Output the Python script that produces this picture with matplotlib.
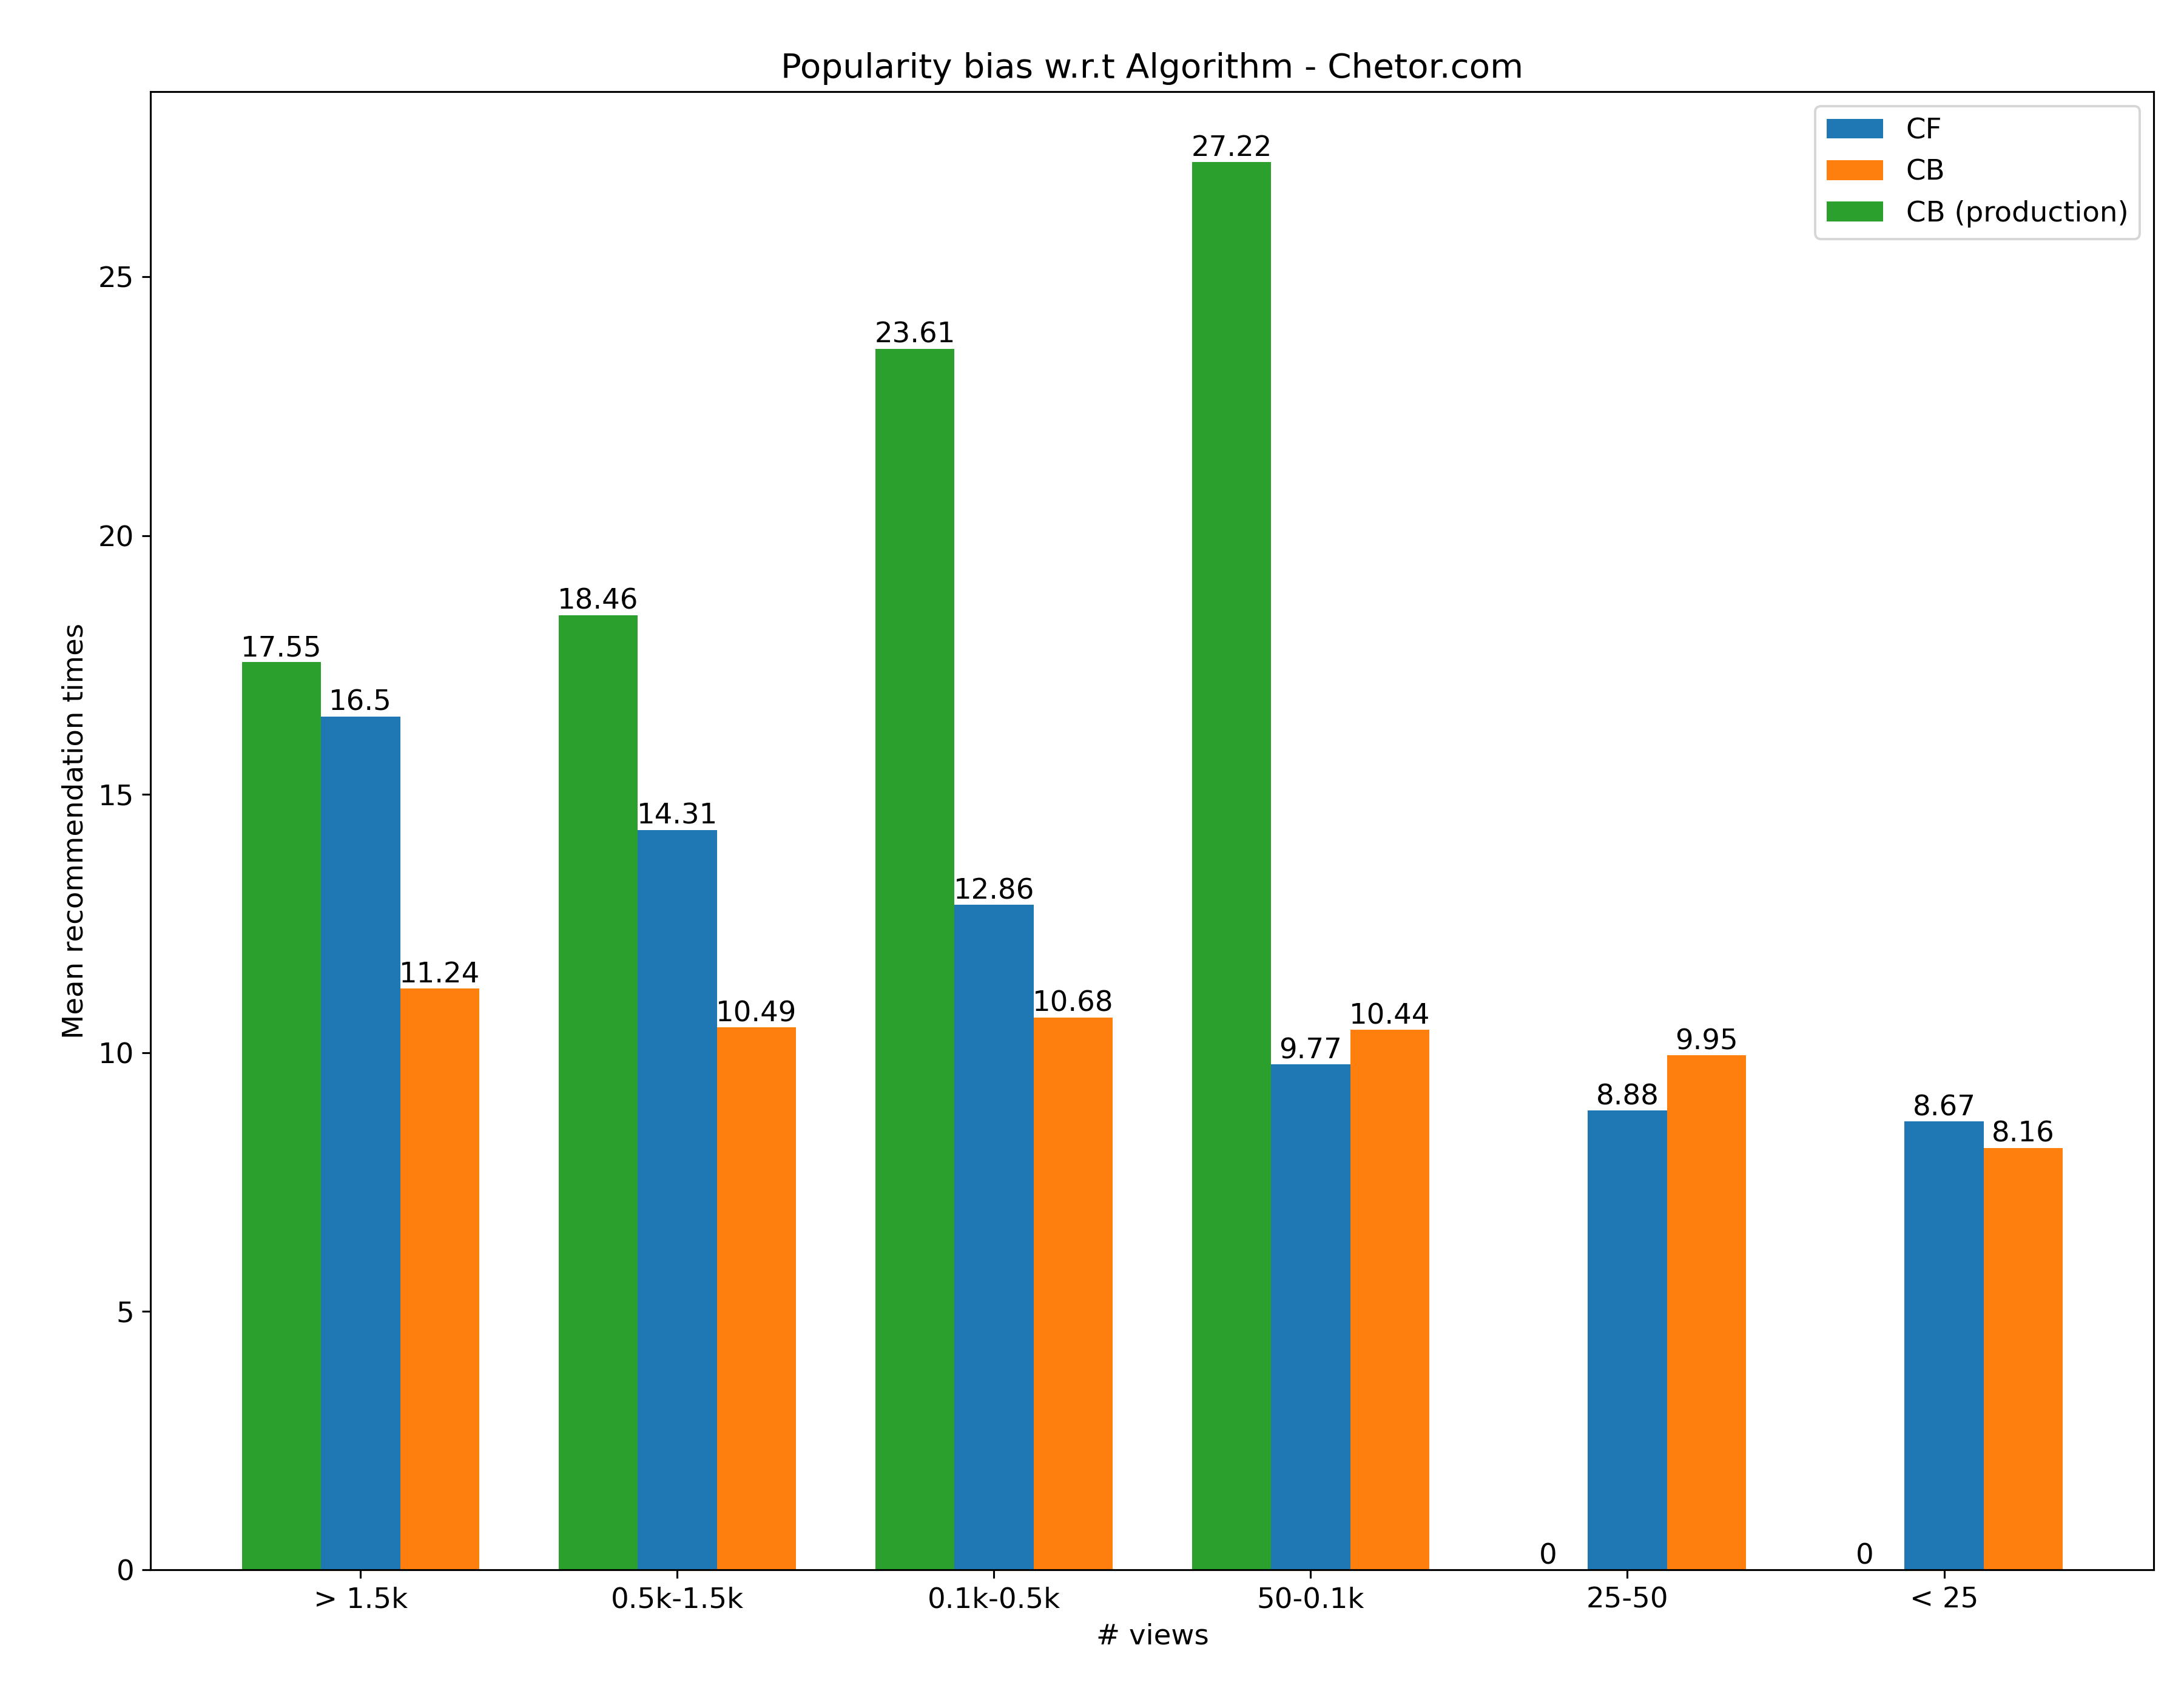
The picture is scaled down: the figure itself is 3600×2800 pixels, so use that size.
import numpy as np
import matplotlib.pyplot as plt

categories = ['> 1.5k', '0.5k-1.5k', '0.1k-0.5k', '50-0.1k', '25-50', '< 25']
cf = [16.5, 14.31, 12.86, 9.77, 8.88, 8.67]
cb = [11.24, 10.49, 10.68, 10.44, 9.95, 8.16]
cb_prod = [17.55, 18.46, 23.61, 27.22, 0.0, 0.0]

x = np.arange(len(categories))
w = 0.25

fig, ax = plt.subplots(figsize=(12.86, 10), dpi=280)
b_cf = ax.bar(x, cf, w, label='CF', color='#1f77b4')
b_cb = ax.bar(x + w, cb, w, label='CB', color='#ff7f0e')
b_pr = ax.bar(x - w, cb_prod, w, label='CB (production)', color='#2ca02c')
for b in (b_cf, b_cb, b_pr):
    ax.bar_label(b, fontsize=12)

ax.set_xticks(x, categories, fontsize=12)
ax.tick_params(axis='y', labelsize=12)
ax.set_xlabel('# views', fontsize=12)
ax.set_ylabel('Mean recommendation times', fontsize=12)
ax.set_title('Popularity bias w.r.t Algorithm - Chetor.com', fontsize=14.5)
ax.legend(fontsize=12)
plt.subplots_adjust(left=0.069, right=0.986, top=0.946, bottom=0.076)
plt.savefig('out.png')
